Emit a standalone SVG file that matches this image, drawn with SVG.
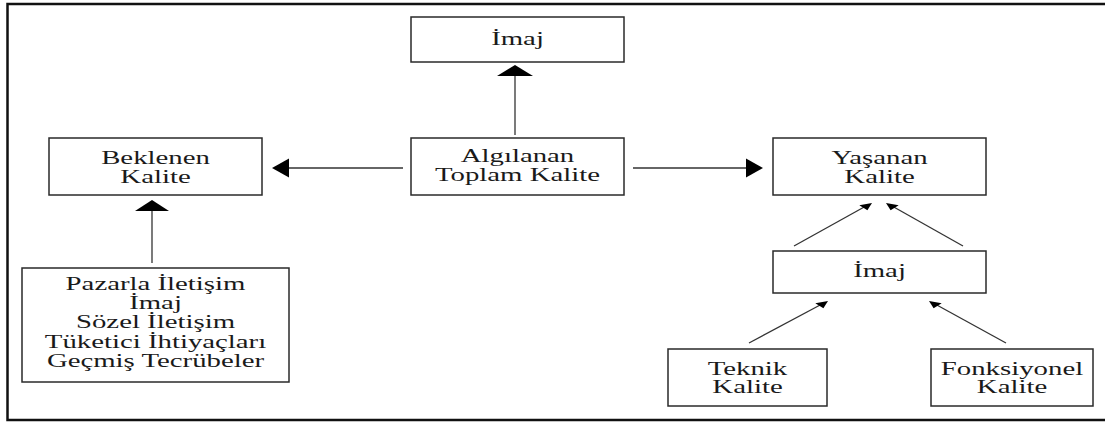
<svg xmlns="http://www.w3.org/2000/svg" width="1105" height="424" viewBox="0 0 1105 424">
  <style>
    .box { fill: #ffffff; stroke: #2a2a2a; stroke-width: 1.5; }
    .lbl { font-family: 'Liberation Serif', 'DejaVu Serif', serif; font-size: 18px; fill: #1a1a1a; text-anchor: middle; }
    .edge { stroke: #333333; stroke-width: 1.3; fill: none; }
    .head { fill: #000000; stroke: none; }
    .frame { fill: none; stroke: #111111; stroke-width: 2.5; }
  </style>
  <rect width="1105" height="424" fill="#ffffff"/>

  <!-- outer frame, open on the right -->
  <path class="frame" d="M1110,4 H7.5 V420 H1110"/>

  <!-- connectors -->
  <g id="connectors">
    <!-- Algılanan -> İmaj (top) -->
    <line class="edge" x1="515" y1="135" x2="515" y2="74"/>
    <polygon class="head" points="515,65 533,76 497,76"/>
    <!-- Algılanan -> Beklenen -->
    <line class="edge" x1="403" y1="168" x2="286" y2="168"/>
    <polygon class="head" points="272,168 289,158.5 289,177.5"/>
    <!-- Algılanan -> Yaşanan -->
    <line class="edge" x1="633" y1="168" x2="750" y2="168"/>
    <polygon class="head" points="763,168 746,158.5 746,177.5"/>
    <!-- list -> Beklenen -->
    <line class="edge" x1="152" y1="263" x2="152" y2="209"/>
    <polygon class="head" points="152,200 169,211 135,211"/>
    <!-- İmaj (lower) -> Yaşanan -->
    <line class="edge" x1="794" y1="246" x2="866" y2="206"/>
    <polygon class="head" points="872,203 867.4,210.3 859.3,205.2"/>
    <line class="edge" x1="963" y1="246" x2="892" y2="206"/>
    <polygon class="head" points="886,203 890.6,210.3 898.7,205.2"/>
    <!-- Teknik / Fonksiyonel -> İmaj (lower) -->
    <line class="edge" x1="749" y1="343" x2="822" y2="304"/>
    <polygon class="head" points="828,301 823.4,308.3 815.3,303.2"/>
    <line class="edge" x1="1006" y1="343" x2="935" y2="304"/>
    <polygon class="head" points="929,301 933.6,308.3 941.7,303.2"/>
  </g>

  <g id="node-imaj-top">
    <rect class="box" x="411" y="17" width="213" height="45"/>
    <text class="lbl" transform="translate(517.5,45) scale(1.6,1)">İmaj</text>
  </g>

  <g id="node-beklenen">
    <rect class="box" x="49" y="138" width="213" height="57"/>
    <text class="lbl" transform="translate(155.5,164) scale(1.6,1)">Beklenen</text>
    <text class="lbl" transform="translate(155.5,183) scale(1.6,1)">Kalite</text>
  </g>

  <g id="node-algilanan">
    <rect class="box" x="411" y="138" width="213" height="57"/>
    <text class="lbl" transform="translate(517.5,162) scale(1.6,1)">Algılanan</text>
    <text class="lbl" transform="translate(517.5,181) scale(1.6,1)">Toplam Kalite</text>
  </g>

  <g id="node-yasanan">
    <rect class="box" x="773" y="138" width="213" height="57"/>
    <text class="lbl" transform="translate(879.5,164) scale(1.6,1)">Yaşanan</text>
    <text class="lbl" transform="translate(879.5,183) scale(1.6,1)">Kalite</text>
  </g>

  <g id="node-etkenler">
    <rect class="box" x="22" y="268" width="267" height="114"/>
    <text class="lbl" transform="translate(155.5,290) scale(1.6,1)">Pazarla İletişim</text>
    <text class="lbl" transform="translate(155.5,309) scale(1.6,1)">İmaj</text>
    <text class="lbl" transform="translate(155.5,328) scale(1.6,1)">Sözel İletişim</text>
    <text class="lbl" transform="translate(155.5,348) scale(1.6,1)">Tüketici İhtiyaçları</text>
    <text class="lbl" transform="translate(155.5,367) scale(1.6,1)">Geçmiş Tecrübeler</text>
  </g>

  <g id="node-imaj-alt">
    <rect class="box" x="773" y="251" width="213" height="42"/>
    <text class="lbl" transform="translate(879.5,277) scale(1.6,1)">İmaj</text>
  </g>

  <g id="node-teknik">
    <rect class="box" x="668" y="349" width="159" height="57"/>
    <text class="lbl" transform="translate(747.5,375) scale(1.6,1)">Teknik</text>
    <text class="lbl" transform="translate(747.5,393) scale(1.6,1)">Kalite</text>
  </g>

  <g id="node-fonksiyonel">
    <rect class="box" x="931" y="349" width="162" height="57"/>
    <text class="lbl" transform="translate(1012,375) scale(1.6,1)">Fonksiyonel</text>
    <text class="lbl" transform="translate(1012,393) scale(1.6,1)">Kalite</text>
  </g>
</svg>
